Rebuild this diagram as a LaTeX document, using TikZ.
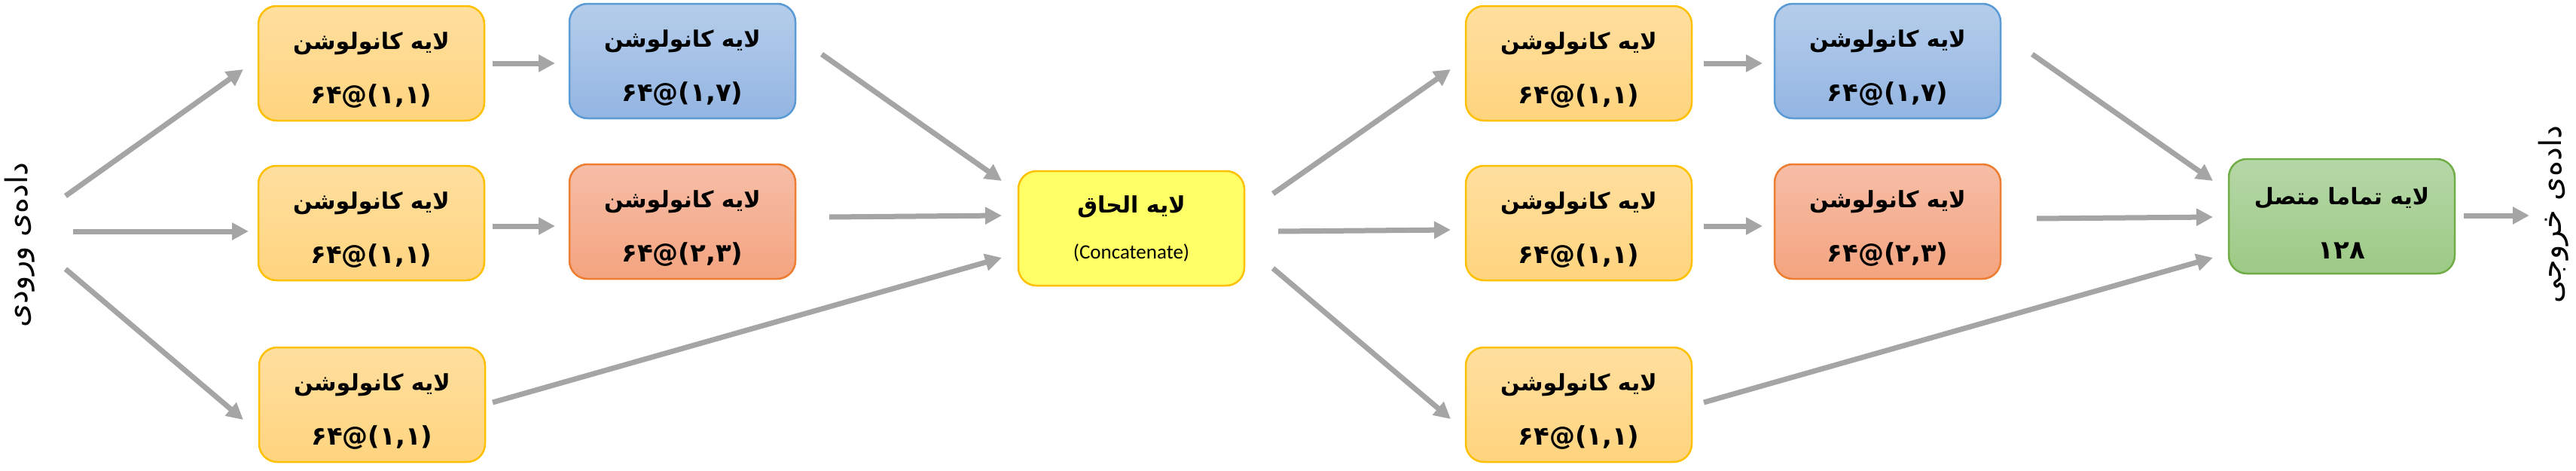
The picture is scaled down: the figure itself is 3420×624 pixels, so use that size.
\documentclass[tikz,border=0pt]{standalone}
\usepackage{fontspec}
\setmainfont{Carlito}
\newfontfamily\fa[Script=Arabic]{DejaVu Sans}
\newfontfamily\fad{DejaVu Sans}
\TeXXeTstate=1
\usetikzlibrary{calc,arrows.meta}
\definecolor{orline}{HTML}{FFC000}
\definecolor{ortop}{HTML}{FFDF9F}
\definecolor{orbot}{HTML}{FFD47E}
\definecolor{blline}{HTML}{5B9BD5}
\definecolor{bltop}{HTML}{B5CDEA}
\definecolor{blbot}{HTML}{93B5E2}
\definecolor{rdline}{HTML}{ED7D31}
\definecolor{rdtop}{HTML}{F6BDA7}
\definecolor{rdbot}{HTML}{F4A47F}
\definecolor{yefill}{HTML}{FFFF66}
\definecolor{grline}{HTML}{70AD47}
\definecolor{grtop}{HTML}{B6D7A8}
\definecolor{grbot}{HTML}{9CCA85}
\definecolor{arrgray}{HTML}{A5A5A5}
\newcommand{\numline}[1]{{\fad\bfseries\fontsize{34}{72}\selectfont #1}}
\newcommand{\topline}[1]{\rule{0pt}{40pt}\beginR #1\endR}
\begin{document}
\begin{tikzpicture}[x=1pt,y=-1pt,
  box/.style={rounded corners=24pt, minimum width=300pt, minimum height=152pt,
    line width=2.5pt, inner sep=0pt, align=center,
    font=\fa\bfseries\fontsize{30}{72}\selectfont},
  orbox/.style={box, draw=orline, top color=ortop, bottom color=orbot},
  blbox/.style={box, draw=blline, top color=bltop, bottom color=blbot},
  rdbox/.style={box, draw=rdline, top color=rdtop, bottom color=rdbot},
  yebox/.style={box, draw=orline, fill=yefill},
  grbox/.style={box, draw=grline, top color=grtop, bottom color=grbot},
  iolabel/.style={rotate=90, font=\fa\fontsize{40}{48}\selectfont},
  arr/.style={draw=arrgray, line width=7pt, -{Triangle[length=22pt,width=22pt]}}
]
\useasboundingbox (0,0) rectangle (3420,624);

\node[iolabel] (in) at (26,325) {\beginR داده‌ی ورودی\endR};
\node[iolabel] (out) at (3390,285) {\beginR داده‌ی خروجی\endR};

\node[orbox] (A1) at (493,84) {\topline{لایه کانولوشن}\\\numline{۶۴@(۱,۱)}};
\node[blbox] (B1) at (906,81) {\topline{لایه کانولوشن}\\\numline{۶۴@(۱,۷)}};
\node[orbox] (A2) at (493,296) {\topline{لایه کانولوشن}\\\numline{۶۴@(۱,۱)}};
\node[rdbox] (B2) at (906,294) {\topline{لایه کانولوشن}\\\numline{۶۴@(۲,۳)}};
\node[orbox] (A3) at (494,537) {\topline{لایه کانولوشن}\\\numline{۶۴@(۱,۱)}};

\node[yebox] (K) at (1502,303) {\beginR لایه الحاق\endR\\[-11pt]{\normalfont\fontsize{27}{30}\selectfont (Concatenate)}};

\node[orbox] (C1) at (2096,84) {\topline{لایه کانولوشن}\\\numline{۶۴@(۱,۱)}};
\node[blbox] (D1) at (2506,81) {\topline{لایه کانولوشن}\\\numline{۶۴@(۱,۷)}};
\node[orbox] (C2) at (2096,296) {\topline{لایه کانولوشن}\\\numline{۶۴@(۱,۱)}};
\node[rdbox] (D2) at (2506,294) {\topline{لایه کانولوشن}\\\numline{۶۴@(۲,۳)}};
\node[orbox] (C3) at (2096,537) {\topline{لایه کانولوشن}\\\numline{۶۴@(۱,۱)}};

\node[grbox] (F) at (3109,287) {\topline{لایه تماما متصل}\\\numline{۱۲۸}};

\draw[arr] ($(in)+(61,-65)$) -- ($(A1)+(-170,8)$);
\draw[arr] ($(in)+(71,-18)$) -- ($(A2)+(-163,11)$);
\draw[arr] ($(in)+(61,32)$) -- ($(A3)+(-171,20)$);
\draw[arr] ($(A1)+(161,0)$) -- ($(B1)+(-169,3)$);
\draw[arr] ($(A2)+(161,4)$) -- ($(B2)+(-169,6)$);
\draw[arr] ($(B1)+(185,-9)$) -- ($(K)+(-172,-63)$);
\draw[arr] ($(B2)+(195,-6)$) -- ($(K)+(-172,-17)$);
\draw[arr] ($(A3)+(160,-3)$) -- ($(K)+(-172,39)$);
\draw[arr] ($(K)+(188,-46)$) -- ($(C1)+(-170,8)$);
\draw[arr] ($(K)+(195,4)$) -- ($(C2)+(-170,9)$);
\draw[arr] ($(K)+(188,53)$) -- ($(C3)+(-170,19)$);
\draw[arr] ($(C1)+(166,0)$) -- ($(D1)+(-166,3)$);
\draw[arr] ($(C2)+(166,4)$) -- ($(D2)+(-166,6)$);
\draw[arr] ($(D1)+(192,-9)$) -- ($(F)+(-171,-47)$);
\draw[arr] ($(D2)+(198,-4)$) -- ($(F)+(-171,1)$);
\draw[arr] ($(C3)+(166,-3)$) -- ($(F)+(-171,55)$);
\draw[arr] ($(F)+(162,-1)$) -- ($(out)+(-32,1)$);
\end{tikzpicture}
\end{document}
